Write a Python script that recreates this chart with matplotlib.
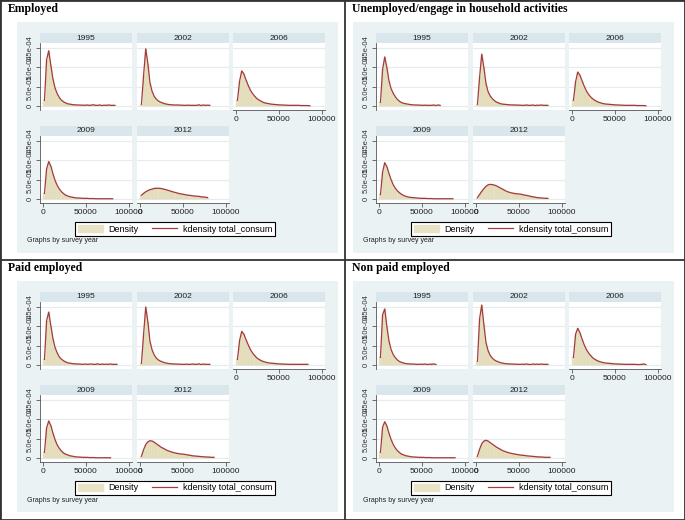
import matplotlib
matplotlib.use('Agg')
import matplotlib.pyplot as plt
from matplotlib.patches import Rectangle, Patch
from matplotlib.lines import Line2D

plt.rcParams['font.family'] = ['Liberation Sans', 'DejaVu Sans']

W, H = 685, 520

years = ['1995', '2002', '2006', '2009', '2012']
titles = ['Employed', 'Unemployed/engage in household activities',
          'Paid employed', 'Non paid employed']
ytick_vals = [0, 5e-05, 1e-04, 1.5e-04]
ytick_labels = ['0', '5.0e-05', '1.0e-04', '1.5e-04']
xtick_vals = [0, 50000, 100000]
xtick_labels = ['0', '50000', '100000']
bin_width = 2500

# density of each 2500-wide bin of total_consum, in units of 1e-05
emp_1995 = [1.5, 12.0, 14.3, 10.5, 7.0, 4.6, 3.2, 2.2, 1.5, 1.1, 0.8, 0.6, 0.5, 0.4, 0.35, 0.3, 0.3,
            0.25, 0.25, 0.2, 0.3, 0.2, 0.25, 0.35, 0.2, 0.2, 0.3, 0.15, 0.25, 0.2, 0.3, 0.2, 0.2, 0.2]
emp_2002 = [0.5, 8.0, 14.8, 11.0, 6.0, 3.8, 2.5, 1.8, 1.3, 1.0, 0.8, 0.6, 0.5, 0.4, 0.35, 0.3, 0.3,
            0.3, 0.25, 0.25, 0.2, 0.2, 0.25, 0.2, 0.2, 0.2, 0.2, 0.35, 0.15, 0.3, 0.2, 0.25, 0.2]
emp_2006 = [1.5, 6.5, 9.1, 8.3, 6.8, 5.4, 4.2, 3.3, 2.6, 2.0, 1.6, 1.3, 1.0, 0.8, 0.7, 0.6, 0.5, 0.45,
            0.4, 0.35, 0.3, 0.3, 0.25, 0.25, 0.2, 0.2, 0.2, 0.2, 0.2, 0.2, 0.15, 0.15, 0.15, 0.15, 0.1]
emp_2009 = [1.5, 7.8, 9.7, 8.5, 6.5, 4.8, 3.5, 2.6, 1.9, 1.4, 1.0, 0.8, 0.6, 0.5, 0.4, 0.3, 0.3, 0.25,
            0.2, 0.2, 0.2, 0.15, 0.15, 0.15, 0.1, 0.1, 0.1, 0.1, 0.1, 0.1, 0.1, 0.1, 0.1]
emp_2012 = [1.0, 1.5, 1.9, 2.2, 2.45, 2.6, 2.75, 2.8, 2.8, 2.75, 2.65, 2.5, 2.35, 2.2, 2.0, 1.85, 1.7,
            1.55, 1.4, 1.3, 1.2, 1.1, 1.0, 0.95, 0.85, 0.8, 0.75, 0.7, 0.6, 0.55, 0.5, 0.4]

unemp_1995 = [1.0, 9.5, 12.7, 10.0, 6.5, 4.5, 3.3, 2.4, 1.7, 1.2, 0.9, 0.7, 0.6, 0.5, 0.4, 0.35, 0.3,
              0.3, 0.25, 0.25, 0.2, 0.25, 0.2, 0.2, 0.2, 0.3, 0.15, 0.3, 0.2]
unemp_2002 = [0.5, 7.5, 13.4, 10.0, 5.8, 3.7, 2.6, 1.9, 1.4, 1.0, 0.8, 0.6, 0.5, 0.45, 0.4, 0.35, 0.3,
              0.3, 0.3, 0.25, 0.25, 0.2, 0.2, 0.3, 0.2, 0.2, 0.3, 0.15, 0.25, 0.2, 0.3, 0.2, 0.2, 0.2]
unemp_2006 = [1.5, 6.3, 8.8, 8.0, 6.6, 5.2, 4.0, 3.1, 2.4, 1.9, 1.5, 1.2, 0.95, 0.8, 0.65, 0.55, 0.5,
              0.45, 0.4, 0.35, 0.3, 0.3, 0.25, 0.25, 0.2, 0.2, 0.2, 0.2, 0.2, 0.2, 0.15, 0.15, 0.15, 0.15, 0.1]
unemp_2009 = [1.2, 7.0, 9.4, 8.4, 6.6, 5.0, 3.7, 2.8, 2.1, 1.6, 1.2, 0.9, 0.7, 0.55, 0.45, 0.4, 0.35,
              0.3, 0.25, 0.2, 0.2, 0.2, 0.15, 0.15, 0.15, 0.1, 0.1, 0.1, 0.1, 0.1, 0.1, 0.1, 0.1, 0.1, 0.1]
unemp_2012 = [0.4, 1.2, 2.0, 2.7, 3.3, 3.7, 3.8, 3.75, 3.6, 3.4, 3.1, 2.8, 2.5, 2.2, 1.95, 1.75, 1.6,
              1.5, 1.4, 1.35, 1.3, 1.2, 1.05, 0.95, 0.85, 0.7, 0.6, 0.5, 0.4, 0.35, 0.3, 0.25, 0.2, 0.2]

paid_1995 = [1.5, 11.5, 13.7, 10.2, 6.8, 4.5, 3.1, 2.1, 1.5, 1.1, 0.8, 0.6, 0.5, 0.4, 0.35, 0.3, 0.3,
             0.25, 0.2, 0.3, 0.2, 0.25, 0.3, 0.2, 0.2, 0.35, 0.15, 0.3, 0.2, 0.25, 0.2, 0.3, 0.2, 0.2, 0.2]
paid_2002 = [0.5, 8.0, 15.0, 11.2, 6.1, 3.9, 2.6, 1.8, 1.3, 1.0, 0.8, 0.6, 0.5, 0.4, 0.35, 0.3, 0.3,
             0.25, 0.25, 0.2, 0.2, 0.25, 0.2, 0.2, 0.3, 0.2, 0.2, 0.35, 0.15, 0.3, 0.2, 0.2, 0.2]
paid_2006 = [1.5, 6.4, 8.7, 8.0, 6.6, 5.3, 4.1, 3.2, 2.5, 1.9, 1.5, 1.2, 0.95, 0.8, 0.65, 0.55, 0.5,
             0.45, 0.4, 0.35, 0.3, 0.3, 0.25, 0.25, 0.2, 0.2, 0.2, 0.2, 0.2, 0.2, 0.2, 0.2, 0.2, 0.2]
paid_2009 = [1.5, 7.8, 9.6, 8.4, 6.4, 4.7, 3.4, 2.5, 1.8, 1.3, 1.0, 0.8, 0.6, 0.5, 0.4, 0.3, 0.3, 0.25,
             0.2, 0.2, 0.2, 0.15, 0.15, 0.15, 0.1, 0.1, 0.1, 0.1, 0.1, 0.1, 0.1, 0.1]
paid_2012 = [0.5, 2.2, 3.5, 4.2, 4.5, 4.4, 4.1, 3.7, 3.3, 2.9, 2.6, 2.3, 2.0, 1.8, 1.6, 1.45, 1.3, 1.2,
             1.1, 1.05, 1.0, 0.9, 0.8, 0.7, 0.6, 0.55, 0.5, 0.45, 0.4, 0.35, 0.3, 0.3, 0.25, 0.2, 0.2]

nonpaid_1995 = [2.0, 13.0, 14.5, 10.0, 6.2, 4.0, 2.7, 1.9, 1.3, 0.9, 0.7, 0.5, 0.4, 0.35, 0.3, 0.3,
                0.25, 0.2, 0.2, 0.25, 0.2, 0.3, 0.15, 0.25, 0.2, 0.3, 0.2]
nonpaid_2002 = [1.0, 12.0, 15.5, 10.5, 5.8, 3.7, 2.5, 1.8, 1.3, 1.0, 0.8, 0.6, 0.5, 0.4, 0.35, 0.3, 0.3,
                0.25, 0.25, 0.2, 0.2, 0.25, 0.2, 0.3, 0.2, 0.15, 0.3, 0.2, 0.25, 0.2, 0.3, 0.2, 0.2, 0.2]
nonpaid_2006 = [2.0, 8.0, 9.5, 8.4, 6.8, 5.3, 4.1, 3.2, 2.5, 1.9, 1.5, 1.2, 0.95, 0.8, 0.65, 0.55, 0.5,
                0.45, 0.4, 0.35, 0.3, 0.3, 0.25, 0.25, 0.2, 0.2, 0.2, 0.2, 0.2, 0.2, 0.15, 0.15, 0.2, 0.3, 0.15]
nonpaid_2009 = [1.5, 8.0, 9.4, 8.3, 6.4, 4.8, 3.5, 2.6, 1.9, 1.4, 1.0, 0.8, 0.6, 0.5, 0.4, 0.3, 0.3,
                0.25, 0.2, 0.2, 0.2, 0.15, 0.15, 0.15, 0.1, 0.1, 0.1, 0.1, 0.1, 0.1, 0.1, 0.1, 0.1, 0.1, 0.1, 0.1]
nonpaid_2012 = [0.5, 2.3, 3.7, 4.4, 4.6, 4.4, 4.0, 3.6, 3.2, 2.8, 2.5, 2.2, 1.9, 1.7, 1.5, 1.35, 1.2,
                1.1, 1.0, 0.9, 0.8, 0.75, 0.7, 0.6, 0.55, 0.5, 0.45, 0.4, 0.35, 0.3, 0.3, 0.25, 0.2, 0.2, 0.2]

groups = [
    [emp_1995, emp_2002, emp_2006, emp_2009, emp_2012],
    [unemp_1995, unemp_2002, unemp_2006, unemp_2009, unemp_2012],
    [paid_1995, paid_2002, paid_2006, paid_2009, paid_2012],
    [nonpaid_1995, nonpaid_2002, nonpaid_2006, nonpaid_2009, nonpaid_2012],
]

fill_col = '#e8e3c4'
edge_col = '#d9d1a9'
line_col = '#a33a3e'
region_col = '#eaf2f3'
strip_col = '#d9e6eb'
grid_col = '#e3ecef'
axis_col = '#555555'


def px_axes(fig, x, y, w, h):
    return fig.add_axes([x / W, 1 - (y + h) / H, w / W, h / H])


fig = plt.figure(figsize=(W / 100, H / 100), dpi=100)

# graph region origins and title positions (pixels)
origins = [(17, 22), (353, 22), (17, 281), (353, 281)]
title_pos = [(8, 9), (352, 9), (8, 268), (352, 268)]
col_left = [23, 120, 216]
row_top = [11, 104]
strip_h = 10
plot_h = 67
plot_w = 92

for q in range(4):
    gx, gy = origins[q]
    fig.add_artist(Rectangle((gx / W, 1 - (gy + 231) / H), 321 / W, 231 / H,
                             transform=fig.transFigure, facecolor=region_col,
                             edgecolor='none', zorder=-1))
    tx, ty = title_pos[q]
    fig.text(tx / W, 1 - ty / H, titles[q], family=['Liberation Serif', 'DejaVu Serif'],
             fontweight='bold', fontsize=8.5, va='center', ha='left')

    for i, year in enumerate(years):
        r, c = divmod(i, 3)
        x0 = gx + col_left[c]
        y0 = gy + row_top[r]

        st = px_axes(fig, x0, y0, plot_w, strip_h)
        st.set_facecolor(strip_col)
        st.set_xticks([])
        st.set_yticks([])
        for s in st.spines.values():
            s.set_visible(False)
        st.text(0.5, 0.5, year, ha='center', va='center', fontsize=6, color='#222222',
                transform=st.transAxes)

        ax = px_axes(fig, x0, y0 + strip_h, plot_w, plot_h)
        vals = groups[q][i]
        centers = [bin_width * (k + 0.5) for k in range(len(vals))]
        dens = [v * 1e-05 for v in vals]
        ax.bar(centers, dens, width=bin_width, color=fill_col, edgecolor=edge_col,
               linewidth=0.25, zorder=2)
        ax.plot(centers, dens, color=line_col, lw=0.9, zorder=3)

        ax.set_xlim(-4000, 104000)
        ax.set_ylim(-1.0e-05, 1.63e-04)
        ax.set_yticks(ytick_vals)
        ax.set_yticklabels(ytick_labels, rotation=90, va='center', fontsize=5.5, color='#333333')
        ax.set_xticks(xtick_vals)
        ax.set_xticklabels(xtick_labels, fontsize=6, color='#222222')
        ax.yaxis.grid(True, color=grid_col, lw=0.8, zorder=0)
        ax.set_axisbelow(True)
        ax.spines['top'].set_visible(False)
        ax.spines['right'].set_visible(False)
        ax.spines['left'].set_color(axis_col)
        ax.spines['bottom'].set_color(axis_col)
        ax.spines['left'].set_linewidth(0.6)
        ax.spines['bottom'].set_linewidth(0.6)
        ax.tick_params(length=3, width=0.6, color=axis_col, pad=1.5)

        if c != 0:
            ax.spines['left'].set_visible(False)
            ax.tick_params(axis='y', left=False, labelleft=False)
        if i in (0, 1):
            ax.spines['bottom'].set_visible(False)
            ax.tick_params(axis='x', bottom=False, labelbottom=False)

    handles = [Patch(facecolor=fill_col, edgecolor=fill_col),
               Line2D([], [], color=line_col, lw=0.9)]
    leg = fig.legend(handles, ['Density', 'kdensity total_consum'], loc='center',
                     bbox_to_anchor=((gx + 158) / W, 1 - (gy + 207) / H), ncol=2,
                     fontsize=6.5, frameon=True, fancybox=False, edgecolor='black',
                     framealpha=1, handlelength=2.8, handletextpad=0.6,
                     columnspacing=1.5, borderpad=0.3)
    leg.get_frame().set_linewidth(0.8)
    fig.text((gx + 10) / W, 1 - (gy + 219) / H, 'Graphs by survey year', fontsize=5,
             va='center', ha='left', color='#222222')

# quadrant dividers and outer frame
fig.add_artist(Line2D([345 / W, 345 / W], [0, 1], transform=fig.transFigure,
                      color='#333333', lw=1.3))
fig.add_artist(Line2D([0, 1], [1 - 260 / H, 1 - 260 / H], transform=fig.transFigure,
                      color='#333333', lw=1.3))
fig.add_artist(Rectangle((0, 0), 1, 1, transform=fig.transFigure, facecolor='none',
                         edgecolor='#333333', lw=2))

fig.savefig('out.png', dpi=100)
